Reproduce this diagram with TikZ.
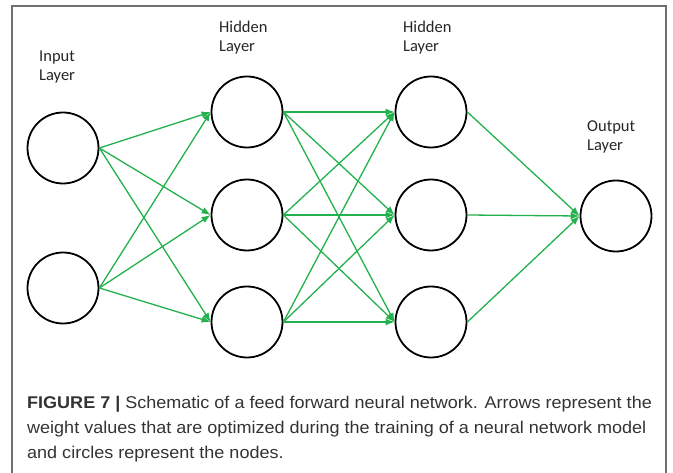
\documentclass[tikz,border=0pt]{standalone}
\usepackage{fontspec}
\setmainfont{Carlito}
\newfontfamily\capfont[FakeStretch=1.06]{Liberation Sans}
\usetikzlibrary{arrows.meta}
\definecolor{wgreen}{RGB}{34,177,76}
\definecolor{framegray}{RGB}{112,112,112}
\definecolor{captext}{RGB}{51,51,51}
\tikzset{
  neuron/.style={circle, draw=black, line width=1.8pt, minimum size=71pt, inner sep=0pt},
  weight/.style={draw=wgreen, line width=1.3pt, -{Latex[length=9pt,width=7pt]}},
  layerlabel/.style={align=left, anchor=base west, inner sep=0pt, text=black!85,
    font=\fontsize{16.5}{19.7}\selectfont},
  captionstyle/.style={align=left, anchor=base west, inner sep=0pt, text=captext,
    font=\capfont\fontsize{17}{25.5}\selectfont}
}
\begin{document}
\begin{tikzpicture}[x=1pt,y=-1pt]
\useasboundingbox (0,0) rectangle (673,473);
\draw[framegray, line width=1.3pt] (12,480) -- (12,6) -- (666,6) -- (666,480);

\node[neuron] (i1) at (63,148) {};
\node[neuron] (i2) at (63,288) {};
\node[neuron] (a1) at (247,112) {};
\node[neuron] (a2) at (247,215) {};
\node[neuron] (a3) at (247,322) {};
\node[neuron] (b1) at (431,112) {};
\node[neuron] (b2) at (431,215) {};
\node[neuron] (b3) at (431,322) {};
\node[neuron] (o) at (616,216) {};

\node[layerlabel] (linput) at (39,81) {Input\\Layer};
\node[layerlabel] (lh1) at (219,52) {Hidden\\Layer};
\node[layerlabel] (lh2) at (403,52) {Hidden\\Layer};
\node[layerlabel] (lout) at (587,151) {Output\\Layer};

\foreach \s in {i1,i2}
  \foreach \t in {a1,a2,a3}
    \draw[weight] (\s.east) -- (\t.west);
\foreach \s in {a1,a2,a3}
  \foreach \t in {b1,b2,b3}
    \draw[weight] (\s.east) -- (\t.west);
\foreach \s in {b1,b2,b3}
  \draw[weight] (\s.east) -- (o.west);

\node[captionstyle] (cap) at (27,459) {{\bfseries FIGURE 7 |} Schematic of a feed forward neural network. Arrows represent the\\
weight values that are optimized during the training of a neural network model\\
and circles represent the nodes.};
\end{tikzpicture}
\end{document}
